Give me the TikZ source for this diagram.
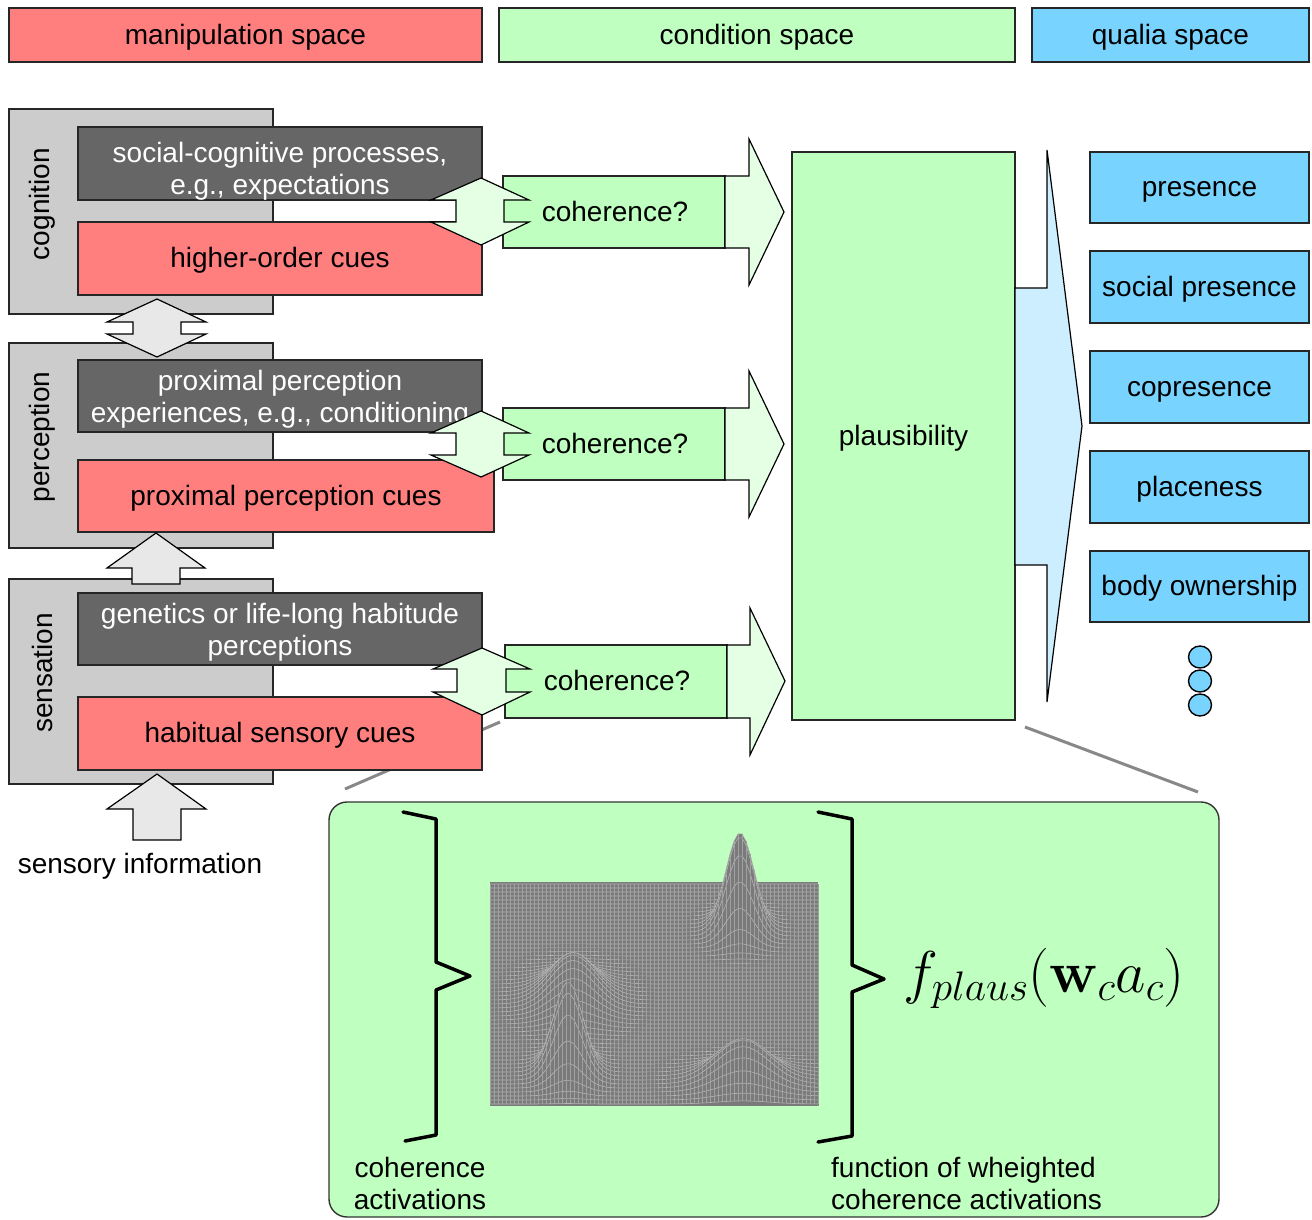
\RequirePackage{fix-cm}
\documentclass[tikz,border=0pt]{standalone}
\usepackage[no-math]{fontspec}
\setmainfont{Liberation Sans}
\definecolor{cred}{HTML}{FF7F7F}
\definecolor{cgreen}{HTML}{BFFFBF}
\definecolor{cblue}{HTML}{78D4FF}
\definecolor{cdark}{HTML}{666666}
\definecolor{cgray}{HTML}{CCCCCC}
\definecolor{lgreen}{HTML}{E5FFE5}
\definecolor{lgray}{HTML}{E8E8E8}
\definecolor{lblue}{HTML}{CCEEFF}
\definecolor{meshfill}{HTML}{7A7A7A}
\definecolor{meshline}{HTML}{B4B4B4}
\definecolor{meshvline}{HTML}{A0A0A0}
\definecolor{zoomline}{HTML}{888888}
\tikzset{
  box/.style={draw=black!85, line width=1.2pt, inner sep=0pt, outer sep=0pt, anchor=north west,
    font=\fontsize{28}{32}\selectfont, align=center, text height=24pt, text depth=6pt},
  blockarrow/.style={draw=black, line width=1.2pt, line join=miter},
  brace/.style={draw=black, line width=3.5pt, line join=round, line cap=round},
  lbl/.style={font=\fontsize{28}{32}\selectfont, inner sep=0pt, align=center},
}
\begin{document}
\begin{tikzpicture}[x=1pt,y=-1pt]
\useasboundingbox (0,0) rectangle (1312,1219);

% top legend bars
\node[box, fill=cred, minimum width=473pt, minimum height=54pt] (manip) at (9,8) {manipulation space};
\node[box, fill=cgreen, minimum width=516pt, minimum height=54pt] (cond) at (499,8) {condition space};
\node[box, fill=cblue, minimum width=277pt, minimum height=54pt] (qual) at (1032,8) {qualia space};

% zoom lines
\coordinate (zl1) at (500,722);
\coordinate (zl2) at (345,789);
\coordinate (zr1) at (1025,727);
\coordinate (zr2) at (1198,792);
\draw[zoomline, line width=3pt] (zl1) -- (zl2);
\draw[zoomline, line width=3pt] (zr1) -- (zr2);

% gray level boxes
\node[box, fill=cgray, minimum width=264pt, minimum height=205pt] (cog) at (9,109) {};
\node[box, fill=cgray, minimum width=264pt, minimum height=205pt] (per) at (9,343) {};
\node[box, fill=cgray, minimum width=264pt, minimum height=205pt] (sen) at (9,579) {};
\node[lbl, rotate=90] (cogl) at (42,204) {cognition};
\node[lbl, rotate=90] (perl) at (42,437) {perception};
\node[lbl, rotate=90] (senl) at (42,673) {sensation};

% dark and red boxes
\node[box, fill=cdark, minimum width=404pt, minimum height=73pt] (soc) at (78,127) {};
\node[lbl, text=white] (socl) at (280,171.5) {social-cognitive processes,\\e.g., expectations};
\node[box, fill=cred, minimum width=404pt, minimum height=73pt] (hoc) at (78,222) {higher-order cues};
\node[box, fill=cdark, minimum width=404pt, minimum height=72pt] (ppe) at (78,360) {};
\node[lbl, text=white] (ppel) at (280,399) {proximal perception\\experiences, e.g., conditioning};
\node[box, fill=cred, minimum width=416pt, minimum height=72pt] (ppc) at (78,460) {proximal perception cues};
\node[box, fill=cdark, minimum width=404pt, minimum height=72pt] (gen) at (78,593) {};
\node[lbl, text=white] (genl) at (280,632) {genetics or life-long habitude\\perceptions};
\node[box, fill=cred, minimum width=404pt, minimum height=73pt] (hab) at (78,697) {habitual sensory cues};

% vertical arrows between levels
\draw[blockarrow, fill=lgray] (157,299) -- (206,322) -- (181,322) -- (181,334) -- (206,334) -- (157,357)
  -- (107,334) -- (133,334) -- (133,322) -- (107,322) -- cycle;
\draw[blockarrow, fill=lgray] (156,533) -- (205,568) -- (180,568) -- (180,584) -- (132,584) -- (132,568) -- (107,568) -- cycle;
\draw[blockarrow, fill=lgray] (157,774) -- (206,809) -- (181,809) -- (181,840) -- (133,840) -- (133,809) -- (107,809) -- cycle;
\node[lbl, anchor=center] (sinfo) at (140,866) {sensory information};

% coherence boxes
\node[box, fill=cgreen, minimum width=222pt, minimum height=72pt] (c1) at (503,176) {\hspace*{2pt}coherence?};
\node[box, fill=cgreen, minimum width=222pt, minimum height=72pt] (c2) at (503,408) {\hspace*{2pt}coherence?};
\node[box, fill=cgreen, minimum width=222pt, minimum height=73pt] (c3) at (505,645) {\hspace*{2pt}coherence?};

% arrows to plausibility
\draw[blockarrow, fill=lgreen] (c1.north east) -- (749,176) -- (749,139) -- (784,212) -- (749,285) -- (749,248) -- (c1.south east) -- cycle;
\draw[blockarrow, fill=lgreen] (c2.north east) -- (749,408) -- (749,371) -- (784,444) -- (749,517) -- (749,480) -- (c2.south east) -- cycle;
\draw[blockarrow, fill=lgreen] (c3.north east) -- (750,645) -- (750,608) -- (785,681) -- (750,755) -- (750,718) -- (c3.south east) -- cycle;

% double arrows between cues and coherence
\draw[blockarrow, fill=lgreen] (481,178) -- (529,200) -- (504,200) -- (504,222) -- (529,222) -- (481,245)
  -- (431,222) -- (456,222) -- (456,200) -- (431,200) -- cycle;
\draw[blockarrow, fill=lgreen] (481,411) -- (529,433) -- (504,433) -- (504,455) -- (529,455) -- (481,477)
  -- (431,455) -- (456,455) -- (456,433) -- (431,433) -- cycle;
\draw[blockarrow, fill=lgreen] (482,648) -- (530,669) -- (506,669) -- (506,692) -- (530,692) -- (482,715)
  -- (433,692) -- (457,692) -- (457,669) -- (433,669) -- cycle;

% plausibility
\node[box, fill=cgreen, minimum width=223pt, minimum height=568pt] (pl) at (792,152) {plausibility};
\draw[blockarrow, fill=lblue] (1015,288) -- (1047,288) -- (1047,150) -- (1082,426) -- (1047,702) -- (1047,565) -- (1015,565) -- cycle;

% qualia boxes
\node[box, fill=cblue, minimum width=219pt, minimum height=71pt] (q1) at (1090,152) {presence};
\node[box, fill=cblue, minimum width=219pt, minimum height=72pt] (q2) at (1090,251) {social presence};
\node[box, fill=cblue, minimum width=219pt, minimum height=72pt] (q3) at (1090,351) {copresence};
\node[box, fill=cblue, minimum width=219pt, minimum height=72pt] (q4) at (1090,451) {placeness};
\node[box, fill=cblue, minimum width=219pt, minimum height=71pt] (q5) at (1090,551) {body ownership};
\foreach \cy in {657,681,705}{
  \draw[fill=cblue, line width=1.4pt] (1200,\cy) ellipse [x radius=11.5pt, y radius=11pt];
}

% bottom panel
\draw[fill=cgreen, line width=1.4pt, draw=black!80, rounded corners=18pt] (329,802) rectangle (1219,1217);

% mesh plot (waterfall of four gaussian bumps)
\fill[meshfill] (490,882) rectangle (818,1105);
\foreach \j in {0,...,55}{
  \pgfmathsetmacro\yb{884+4*\j}
  \pgfmathsetmacro\ybn{\yb+4}
  \pgfmathsetmacro\aA{97*exp(-min(((\yb-930)/14)^2,9))}
  \pgfmathsetmacro\aB{45*exp(-min(((\yb-1000)/22)^2,9))}
  \pgfmathsetmacro\aC{90*exp(-min(((\yb-1072)/14)^2,9))}
  \pgfmathsetmacro\aD{40*exp(-min(((\yb-1080)/15)^2,9))}
  \pgfmathsetmacro\bA{97*exp(-min(((\ybn-930)/14)^2,9))}
  \pgfmathsetmacro\bB{45*exp(-min(((\ybn-1000)/22)^2,9))}
  \pgfmathsetmacro\bC{90*exp(-min(((\ybn-1072)/14)^2,9))}
  \pgfmathsetmacro\bD{40*exp(-min(((\ybn-1080)/15)^2,9))}
  \gdef\rowpath{}
  \gdef\gridpath{}
  \foreach \xx in {490,494,...,818}{
    \pgfmathsetmacro\gA{exp(-min(((\xx-740)/20)^2,9))}
    \pgfmathsetmacro\gB{exp(-min(((\xx-573)/32)^2,9))}
    \pgfmathsetmacro\gC{exp(-min(((\xx-568)/21)^2,9))}
    \pgfmathsetmacro\gD{exp(-min(((\xx-743)/38)^2,9))}
    \pgfmathsetmacro\yA{\yb-\aA*\gA-\aB*\gB-\aC*\gC-\aD*\gD}
    \pgfmathsetmacro\yB{\ybn-\bA*\gA-\bB*\gB-\bC*\gC-\bD*\gD}
    \xdef\rowpath{\rowpath -- (\xx,\yA)}
    \xdef\gridpath{\gridpath (\xx,\yA) -- (\xx,\yB)}
  }
  \edef\tmp{\noexpand\fill[meshfill] (490,1105) \rowpath -- (818,1105) -- cycle;}\tmp
  \edef\tmp{\noexpand\draw[meshline, line width=0.6pt] (490,\yb) \rowpath;}\tmp
  \ifnum\j<55 \edef\tmp{\noexpand\draw[meshvline, line width=0.45pt] \gridpath;}\tmp\fi
}

% braces
\draw[brace] (403,812) -- (436,819) -- (436,962) -- (470,976) -- (436,990) -- (436,1135) -- (405,1141);
\draw[brace] (818,812) -- (852,819) -- (852,965) -- (884,979) -- (852,992) -- (852,1136) -- (818,1142);

\node[inner sep=0pt, anchor=base, font=\fontsize{59}{64}\selectfont] (fml) at (1044,992) {$f_{plaus}(\mathbf{w}_c a_c)$};
\node[lbl] (cal) at (420,1183) {coherence\\activations};
\node[lbl, anchor=west, align=left] (fal) at (831,1183) {function of wheighted\\coherence activations};
\end{tikzpicture}
\end{document}
